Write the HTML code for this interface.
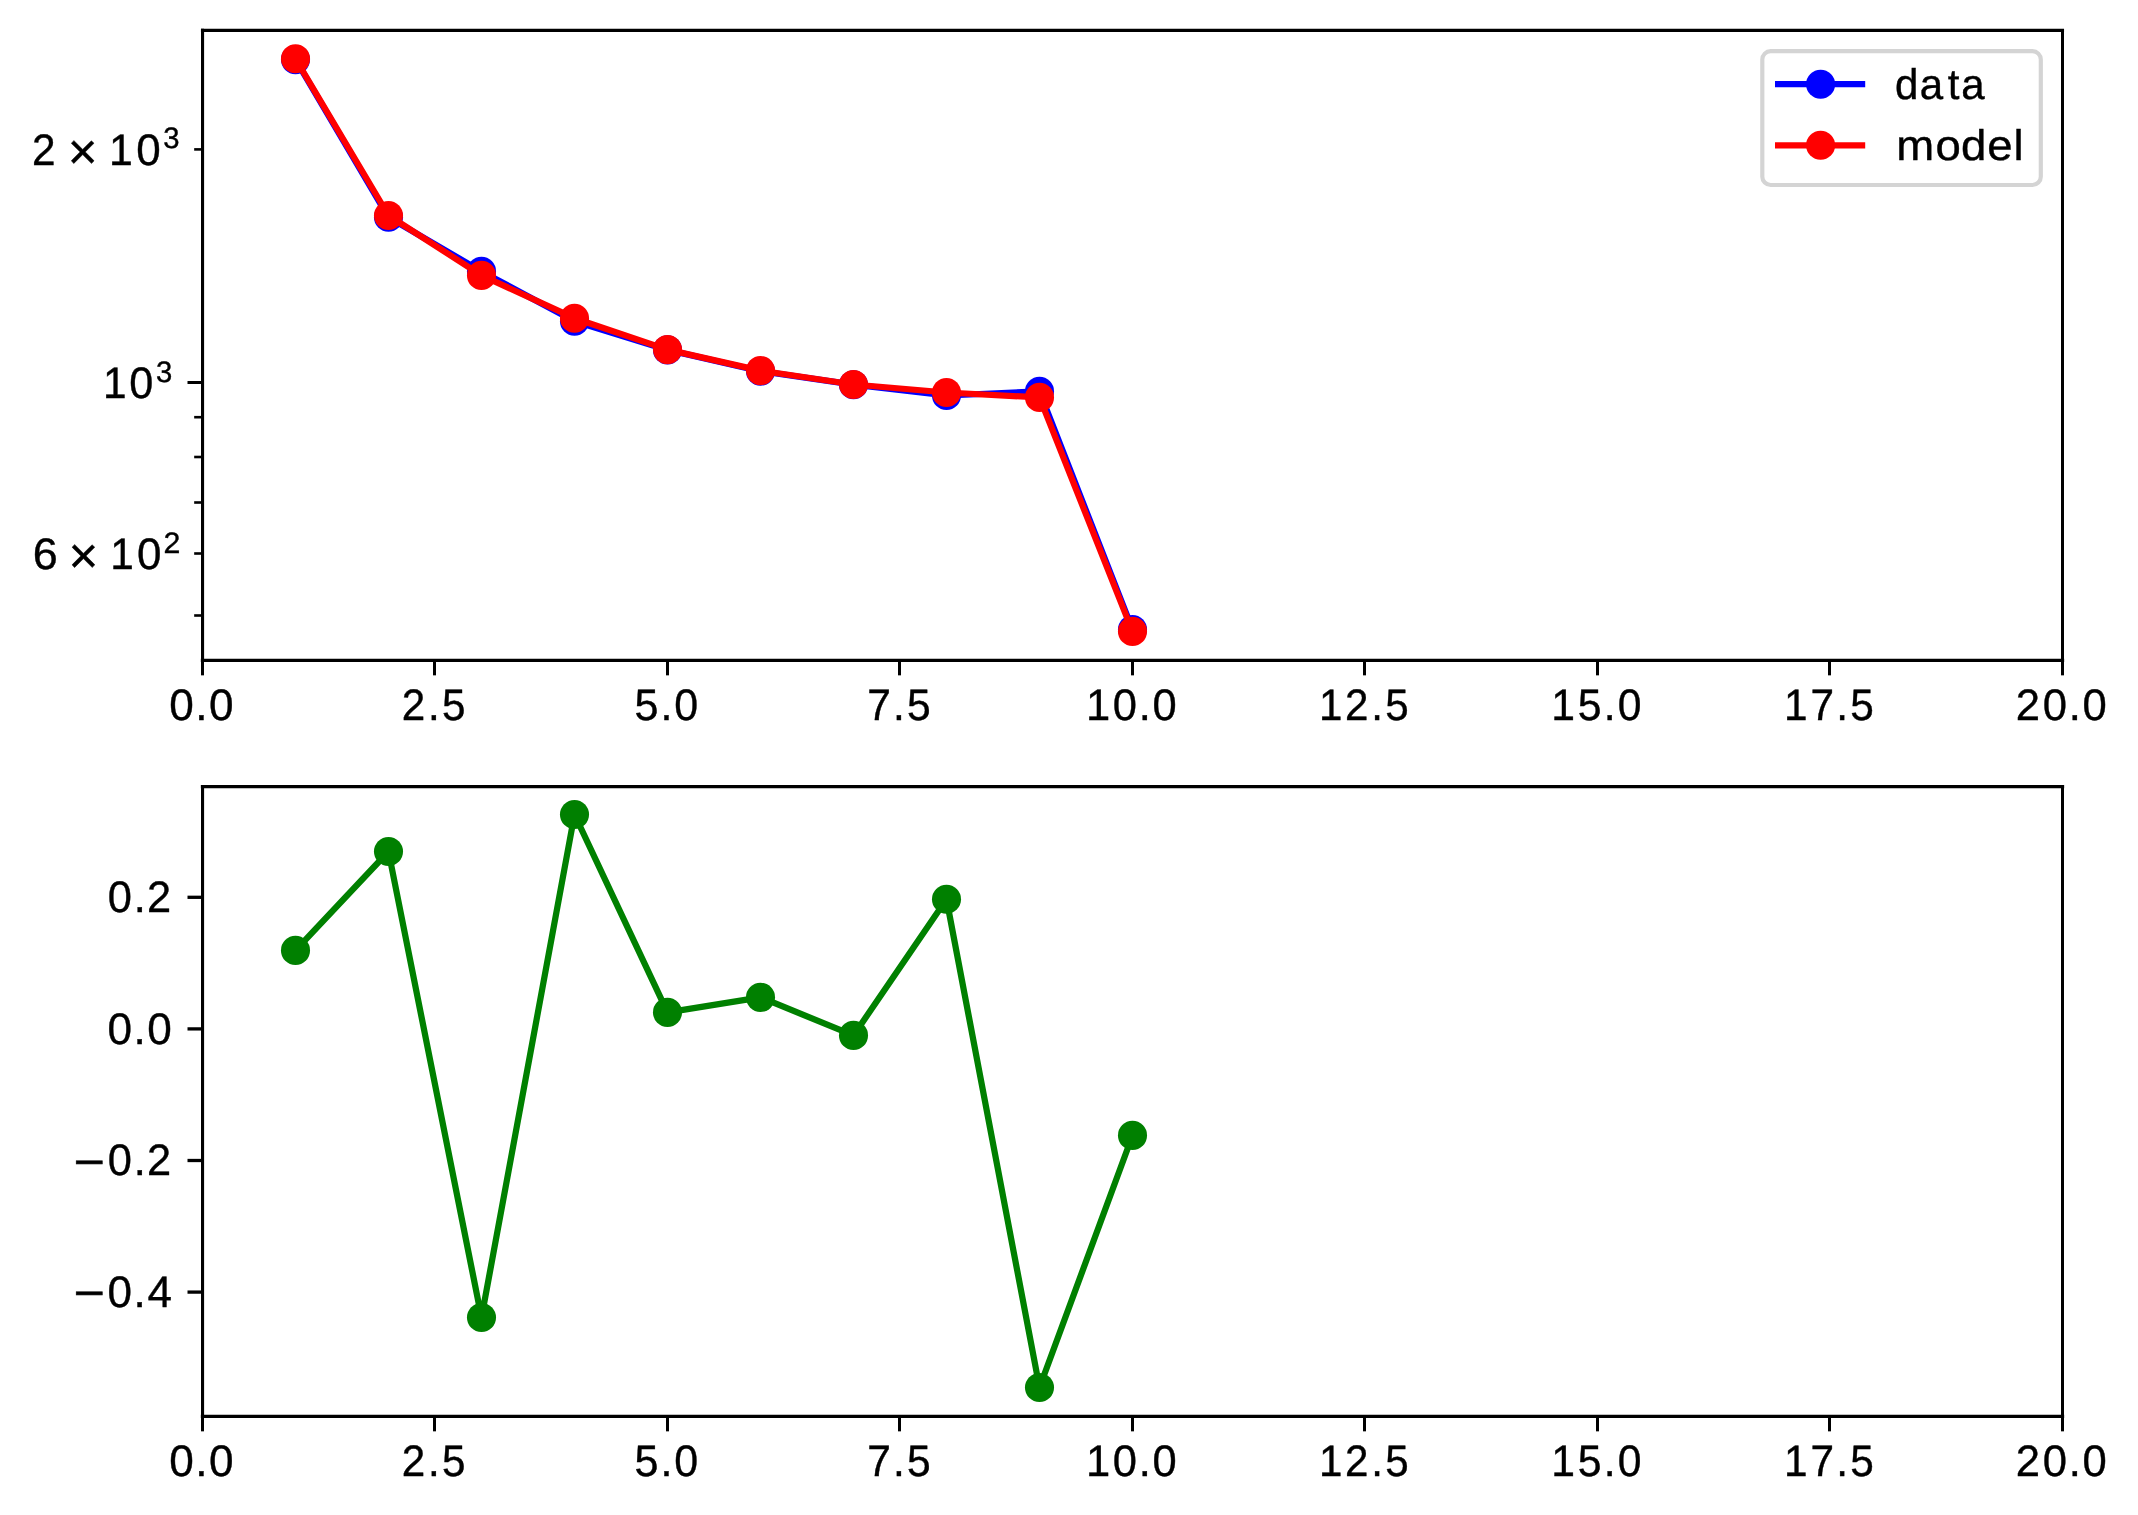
<!DOCTYPE html>
<html><head><meta charset="utf-8"><title>chart</title>
<style>html,body{margin:0;padding:0;background:#fff;}body{width:2138px;height:1515px;overflow:hidden;font-family:"Liberation Sans",sans-serif;}</style>
</head><body>
<svg width="2138" height="1515" viewBox="0 0 2138 1515" style="display:block;will-change:transform;text-rendering:geometricPrecision">
<rect x="0" y="0" width="2138" height="1515" fill="#ffffff"/>
<g id="ax1-lines"><polyline points="295.50,59.60 388.50,217.30 481.50,271.40 574.50,321.20 667.50,349.90 760.50,371.20 853.50,384.70 946.50,395.50 1039.50,391.40 1132.50,629.60" fill="none" stroke="#0000ff" stroke-width="6.25" stroke-linejoin="round" stroke-linecap="square"/><circle cx="295.50" cy="59.60" r="14.55" fill="#0000ff"/><circle cx="388.50" cy="217.30" r="14.55" fill="#0000ff"/><circle cx="481.50" cy="271.40" r="14.55" fill="#0000ff"/><circle cx="574.50" cy="321.20" r="14.55" fill="#0000ff"/><circle cx="667.50" cy="349.90" r="14.55" fill="#0000ff"/><circle cx="760.50" cy="371.20" r="14.55" fill="#0000ff"/><circle cx="853.50" cy="384.70" r="14.55" fill="#0000ff"/><circle cx="946.50" cy="395.50" r="14.55" fill="#0000ff"/><circle cx="1039.50" cy="391.40" r="14.55" fill="#0000ff"/><circle cx="1132.50" cy="629.60" r="14.55" fill="#0000ff"/><polyline points="295.50,58.80 388.50,215.50 481.50,275.40 574.50,318.20 667.50,349.60 760.50,370.60 853.50,384.50 946.50,392.50 1039.50,397.40 1132.50,631.40" fill="none" stroke="#ff0000" stroke-width="6.25" stroke-linejoin="round" stroke-linecap="square"/><circle cx="295.50" cy="58.80" r="14.55" fill="#ff0000"/><circle cx="388.50" cy="215.50" r="14.55" fill="#ff0000"/><circle cx="481.50" cy="275.40" r="14.55" fill="#ff0000"/><circle cx="574.50" cy="318.20" r="14.55" fill="#ff0000"/><circle cx="667.50" cy="349.60" r="14.55" fill="#ff0000"/><circle cx="760.50" cy="370.60" r="14.55" fill="#ff0000"/><circle cx="853.50" cy="384.50" r="14.55" fill="#ff0000"/><circle cx="946.50" cy="392.50" r="14.55" fill="#ff0000"/><circle cx="1039.50" cy="397.40" r="14.55" fill="#ff0000"/><circle cx="1132.50" cy="631.40" r="14.55" fill="#ff0000"/></g>
<g id="ax2-lines"><polyline points="295.50,950.40 388.50,851.50 481.50,1317.50 574.50,814.50 667.50,1012.40 760.50,997.35 853.50,1035.40 946.50,899.20 1039.50,1387.50 1132.50,1135.40" fill="none" stroke="#008000" stroke-width="6.25" stroke-linejoin="round" stroke-linecap="square"/><circle cx="295.50" cy="950.40" r="14.55" fill="#008000"/><circle cx="388.50" cy="851.50" r="14.55" fill="#008000"/><circle cx="481.50" cy="1317.50" r="14.55" fill="#008000"/><circle cx="574.50" cy="814.50" r="14.55" fill="#008000"/><circle cx="667.50" cy="1012.40" r="14.55" fill="#008000"/><circle cx="760.50" cy="997.35" r="14.55" fill="#008000"/><circle cx="853.50" cy="1035.40" r="14.55" fill="#008000"/><circle cx="946.50" cy="899.20" r="14.55" fill="#008000"/><circle cx="1039.50" cy="1387.50" r="14.55" fill="#008000"/><circle cx="1132.50" cy="1135.40" r="14.55" fill="#008000"/></g>
<g stroke="#000" fill="none" stroke-linecap="square"><line x1="202.5" y1="30.4" x2="2062.5" y2="30.4" stroke-width="3.1"/><line x1="202.5" y1="660.35" x2="2062.5" y2="660.35" stroke-width="3.3"/><line x1="202.55" y1="30.4" x2="202.55" y2="660.35" stroke-width="3.1"/><line x1="2062.5" y1="30.4" x2="2062.5" y2="660.35" stroke-width="3.0"/><line x1="202.5" y1="786.65" x2="2062.5" y2="786.65" stroke-width="3.3"/><line x1="202.5" y1="1416.35" x2="2062.5" y2="1416.35" stroke-width="3.3"/><line x1="202.55" y1="786.65" x2="202.55" y2="1416.35" stroke-width="3.1"/><line x1="2062.5" y1="786.65" x2="2062.5" y2="1416.35" stroke-width="3.0"/></g>
<g stroke="#000" fill="none"><line x1="202.50" y1="660.35" x2="202.50" y2="675.35" stroke-width="3.0"/><line x1="434.50" y1="660.35" x2="434.50" y2="675.35" stroke-width="3.0"/><line x1="667.50" y1="660.35" x2="667.50" y2="675.35" stroke-width="3.0"/><line x1="899.50" y1="660.35" x2="899.50" y2="675.35" stroke-width="3.0"/><line x1="1132.50" y1="660.35" x2="1132.50" y2="675.35" stroke-width="3.0"/><line x1="1364.50" y1="660.35" x2="1364.50" y2="675.35" stroke-width="3.0"/><line x1="1597.50" y1="660.35" x2="1597.50" y2="675.35" stroke-width="3.0"/><line x1="1829.50" y1="660.35" x2="1829.50" y2="675.35" stroke-width="3.0"/><line x1="2062.50" y1="660.35" x2="2062.50" y2="675.35" stroke-width="3.0"/><line x1="202.50" y1="1416.35" x2="202.50" y2="1431.35" stroke-width="3.0"/><line x1="434.50" y1="1416.35" x2="434.50" y2="1431.35" stroke-width="3.0"/><line x1="667.50" y1="1416.35" x2="667.50" y2="1431.35" stroke-width="3.0"/><line x1="899.50" y1="1416.35" x2="899.50" y2="1431.35" stroke-width="3.0"/><line x1="1132.50" y1="1416.35" x2="1132.50" y2="1431.35" stroke-width="3.0"/><line x1="1364.50" y1="1416.35" x2="1364.50" y2="1431.35" stroke-width="3.0"/><line x1="1597.50" y1="1416.35" x2="1597.50" y2="1431.35" stroke-width="3.0"/><line x1="1829.50" y1="1416.35" x2="1829.50" y2="1431.35" stroke-width="3.0"/><line x1="2062.50" y1="1416.35" x2="2062.50" y2="1431.35" stroke-width="3.0"/><line x1="202.5" y1="382.5" x2="187.5" y2="382.5" stroke-width="3.0"/><line x1="202.5" y1="149.4" x2="194.17" y2="149.4" stroke-width="2.6"/><line x1="202.5" y1="417.2" x2="194.17" y2="417.2" stroke-width="2.6"/><line x1="202.5" y1="457.0" x2="194.17" y2="457.0" stroke-width="2.6"/><line x1="202.5" y1="502.5" x2="194.17" y2="502.5" stroke-width="2.6"/><line x1="202.5" y1="553.5" x2="194.17" y2="553.5" stroke-width="2.6"/><line x1="202.5" y1="615.5" x2="194.17" y2="615.5" stroke-width="2.6"/><line x1="202.5" y1="897.30" x2="187.5" y2="897.30" stroke-width="3.3"/><line x1="202.5" y1="1028.90" x2="187.5" y2="1028.90" stroke-width="3.3"/><line x1="202.5" y1="1160.50" x2="187.5" y2="1160.50" stroke-width="3.3"/><line x1="202.5" y1="1292.10" x2="187.5" y2="1292.10" stroke-width="3.3"/></g>
<g font-family="Liberation Sans, sans-serif" font-size="44.0" fill="#000" stroke="#000" stroke-width="0.4"><text transform="translate(169.29 720.10) scale(1.0033 1)" x="0.00 25.93 39.62" y="0" font-size="44.00">0.0</text><text transform="translate(401.82 720.10) scale(0.9585 1)" x="0.00 27.40 41.91" y="0" font-size="44.00">2.5</text><text transform="translate(634.52 720.10) scale(0.9764 1)" x="0.00 26.59 40.82" y="0" font-size="44.00">5.0</text><text transform="translate(867.20 720.10) scale(0.9655 1)" x="0.00 26.77 41.12" y="0" font-size="44.00">7.5</text><text transform="translate(1086.09 720.10) scale(0.9885 1)" x="0.00 26.95 53.18 67.17" y="0" font-size="44.00">10.0</text><text transform="translate(1319.00 720.10) scale(0.9567 1)" x="0.00 27.28 54.73 69.27" y="0" font-size="44.00">12.5</text><text transform="translate(1551.33 720.10) scale(0.9694 1)" x="0.00 27.36 54.10 68.48" y="0" font-size="44.00">15.0</text><text transform="translate(1783.93 720.10) scale(0.9616 1)" x="0.00 27.63 54.48 68.92" y="0" font-size="44.00">17.5</text><text transform="translate(2015.67 720.10) scale(0.9910 1)" x="0.00 27.27 53.46 67.39" y="0" font-size="44.00">20.0</text><text transform="translate(169.29 1476.40) scale(1.0033 1)" x="0.00 25.93 39.62" y="0" font-size="44.00">0.0</text><text transform="translate(401.82 1476.40) scale(0.9585 1)" x="0.00 27.40 41.91" y="0" font-size="44.00">2.5</text><text transform="translate(634.52 1476.40) scale(0.9764 1)" x="0.00 26.59 40.82" y="0" font-size="44.00">5.0</text><text transform="translate(867.20 1476.40) scale(0.9655 1)" x="0.00 26.77 41.12" y="0" font-size="44.00">7.5</text><text transform="translate(1086.09 1476.40) scale(0.9885 1)" x="0.00 26.95 53.18 67.17" y="0" font-size="44.00">10.0</text><text transform="translate(1319.00 1476.40) scale(0.9567 1)" x="0.00 27.28 54.73 69.27" y="0" font-size="44.00">12.5</text><text transform="translate(1551.33 1476.40) scale(0.9694 1)" x="0.00 27.36 54.10 68.48" y="0" font-size="44.00">15.0</text><text transform="translate(1783.93 1476.40) scale(0.9616 1)" x="0.00 27.63 54.48 68.92" y="0" font-size="44.00">17.5</text><text transform="translate(2015.67 1476.40) scale(0.9910 1)" x="0.00 27.27 53.46 67.39" y="0" font-size="44.00">20.0</text><text transform="translate(107.77 912.10) scale(0.9861 1)" x="0.00 26.28 39.79" y="0" font-size="44.00">0.2</text><text transform="translate(107.56 1043.70) scale(1.0033 1)" x="0.00 25.93 39.62" y="0" font-size="44.00">0.0</text><text transform="translate(73.40 1176.70) scale(1.2252 1)" x="0.00" y="0" font-size="44.00">−</text><text transform="translate(107.77 1175.30) scale(0.9861 1)" x="0.00 26.28 39.79" y="0" font-size="44.00">0.2</text><text transform="translate(73.40 1308.30) scale(1.2252 1)" x="0.00" y="0" font-size="44.00">−</text><text transform="translate(107.60 1306.90) scale(0.9997 1)" x="0.00 26.01 39.83" y="0" font-size="44.00">0.4</text></g>
<g font-family="Liberation Sans, sans-serif" font-size="44.0" fill="#000" stroke="#000" stroke-width="0.4"><text transform="translate(31.93 165.20) scale(0.9615 1)" x="0.00" y="0" font-size="44.00">2</text><text x="67.63" y="169.21" font-size="51.01">×</text><text transform="translate(109.09 165.20) scale(0.9721 1)" x="0.00" y="0" font-size="44.00">1</text><text transform="translate(136.14 165.20) scale(0.9995 1)" x="0.00" y="0" font-size="44.00">0</text><text transform="translate(163.20 148.40) scale(0.9886 1)" x="0.00" y="0" font-size="29.60">3</text><text transform="translate(32.75 568.90) scale(1.0221 1)" x="0.00" y="0" font-size="44.00">6</text><text x="68.53" y="573.26" font-size="51.01">×</text><text transform="translate(110.13 568.90) scale(0.9616 1)" x="0.00" y="0" font-size="44.00">1</text><text transform="translate(137.04 568.90) scale(0.9995 1)" x="0.00" y="0" font-size="44.00">0</text><text transform="translate(163.48 552.60) scale(1.0247 1)" x="0.00" y="0" font-size="29.60">2</text><text transform="translate(103.08 398.00) scale(0.9637 1)" x="0.00" y="0" font-size="44.00">1</text><text transform="translate(129.32 398.00) scale(0.9829 1)" x="0.00" y="0" font-size="44.00">0</text><text transform="translate(155.90 381.50) scale(0.9886 1)" x="0.00" y="0" font-size="29.60">3</text></g>
<g font-family="Liberation Sans, sans-serif" font-size="42.8" fill="#000"><rect x="1762.3" y="51.2" width="278.5" height="133.8" rx="8.33" ry="8.33" fill="#ffffff" fill-opacity="0.8" stroke="#d4d4d4" stroke-width="4.17"/><line x1="1775.0" y1="84.2" x2="1865.2" y2="84.2" stroke="#0000ff" stroke-width="6.25"/><circle cx="1820.6" cy="84.2" r="14.55" fill="#0000ff"/><line x1="1775.0" y1="145.3" x2="1865.2" y2="145.3" stroke="#ff0000" stroke-width="6.25"/><circle cx="1820.6" cy="145.3" r="14.55" fill="#ff0000"/><g stroke="#000" stroke-width="0.4"><text transform="translate(1895.01 98.90) scale(0.9829 1)" x="0.00 25.07 53.66 67.47" y="0" font-size="42.80">data</text><text transform="translate(1896.30 159.90) scale(1.0631 1)" x="0.00 36.79 60.92 85.61 110.16" y="0" font-size="42.80">model</text></g></g>
</svg>
</body></html>
